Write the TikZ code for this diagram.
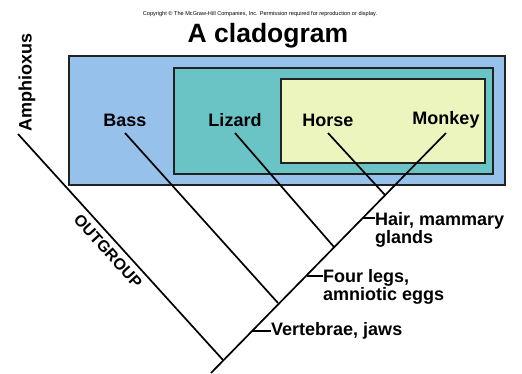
\documentclass[tikz,border=0pt]{standalone}
\usepackage{fontspec}
\setmainfont{Liberation Sans}
\definecolor{boxblue}{HTML}{95C1EB}
\definecolor{boxteal}{HTML}{6AC4C6}
\definecolor{boxyellow}{HTML}{EDF5BF}
\definecolor{edgegray}{HTML}{222222}
\begin{document}
\begin{tikzpicture}[x=1pt,y=-1pt,
  grp/.style={draw=edgegray,line width=1.4pt},
  taxon/.style={font=\fontsize{18}{20}\selectfont\bfseries,inner sep=0pt},
  trait/.style={font=\fontsize{18}{18}\selectfont\bfseries,inner sep=0pt,align=left,anchor=west},
  branch/.style={line width=1.7pt,black},
  tick/.style={line width=1.4pt,black}]
\useasboundingbox (0,0) rectangle (522,373);
\fill[white] (0,0) rectangle (522,373);
% group boxes
\draw[grp,fill=boxblue] (69,56) rectangle (505,185);
\draw[grp,fill=boxteal] (174,68) rectangle (493,174);
\draw[grp,fill=boxyellow] (281,79) rectangle (485,163);
% titles
\node[inner sep=0pt,font=\fontsize{5.6}{6}\selectfont] (copy) at (260,14) {Copyright \textcopyright{} The McGraw-Hill Companies, Inc. Permission required for reproduction or display.};
\node[inner sep=0pt,font=\fontsize{26.5}{28}\selectfont\bfseries] (title) at (268,36) {A cladogram};
% taxa
\node[taxon] (bass) at (125,120) {Bass};
\node[taxon] (lizard) at (235,120) {Lizard};
\node[taxon] (horse) at (328,120) {Horse};
\node[taxon] (monkey) at (446,120) {Monkey};
\node[taxon,rotate=90] (amph) at (27,82) {Amphioxus};
\node[inner sep=0pt,font=\fontsize{16}{18}\selectfont\bfseries,rotate=-47.8] (out) at (108,251) {OUTGROUP};
% branch points
\coordinate (amphtop) at (18,134);
\coordinate (basstop) at (125,133);
\coordinate (liztop) at (235,133);
\coordinate (horsetop) at (328,133);
\coordinate (monktop) at (446,133);
\coordinate (jhm) at (385,195);
\coordinate (jliz) at (334,247);
\coordinate (jbass) at (278,303);
\coordinate (jout) at (223,360);
\coordinate (root) at (211,373);
% branches
\draw[branch] (amphtop) -- (jout);
\draw[branch] (basstop) -- (jbass);
\draw[branch] (liztop) -- (jliz);
\draw[branch] (horsetop) -- (jhm);
\draw[branch] (monktop) -- (root);
% traits
\coordinate (t1) at (252,331);
\coordinate (t2) at (307,276);
\coordinate (t3) at (363,218);
\node[trait] (vert) at (271,331) {Vertebrae, jaws};
\node[trait,anchor=north west] (legs) at (323,269) {Four legs,\\amniotic eggs};
\node[trait,anchor=north west] (hair) at (375,212) {Hair, mammary\\glands};
\draw[tick] (t1) -- (vert.west);
\draw[tick] (t2) -- (legs.west |- t2);
\draw[tick] (t3) -- (hair.west |- t3);
\end{tikzpicture}
\end{document}
